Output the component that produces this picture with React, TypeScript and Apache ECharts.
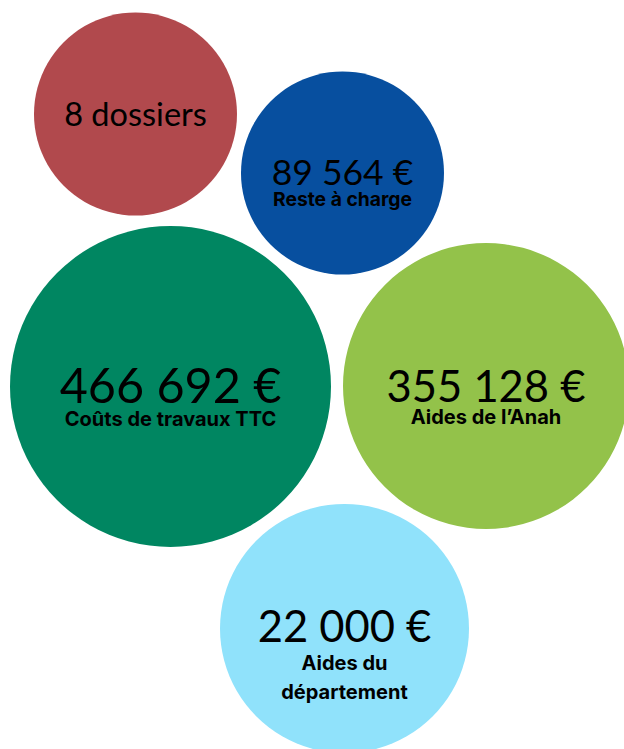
import React, { useEffect, useRef } from "react";
import * as echarts from "echarts";

// Data
const values = ["8 dossiers", "89 564 €", "466 692 €", "355 128 €", "22 000 €"];
const captions = ["", "Reste à charge", "Coûts de travaux TTC", "Aides de l’Anah", "Aides du\ndépartement"];

// Layout (axis units = pixels of the 624x749 canvas)
const posX = [135.5, 342.5, 170.5, 486, 344.5];
const posY = [114, 173, 386.5, 386, 628.5];
const diameters = [203, 203, 321, 286, 249];
const colors = ["#b1494d", "#074f9f", "#008661", "#93c24a", "#90e2fb"];
const valueFont = [32.5, 35.5, 48.5, 43.5, 43.5];
const valueLine = [34, 34, 48, 42, 47];
const capFont = [19, 19.3, 20, 20, 20];
const capLine = [22, 22, 22, 22, 29];
const offsets = [-1, 9, 8.5, 10, 25.5];

export default function App() {
  const ref = useRef<HTMLDivElement>(null);
  useEffect(() => {
    if (!ref.current) return;
    const chart = echarts.init(ref.current, null, { renderer: "svg" });
    const data = values.map((v, i) => ({
      value: [posX[i], posY[i]],
      symbolSize: diameters[i],
      itemStyle: { color: colors[i], opacity: 1 },
      label: {
        show: true,
        position: "inside",
        offset: [0, offsets[i]],
        color: "#000",
        textBorderWidth: 0,
        formatter: captions[i] ? `{v|${v}}\n{c|${captions[i]}}` : `{v|${v}}`,
        rich: {
          v: {
            fontFamily: "Lato",
            fontWeight: 400,
            fontSize: valueFont[i],
            lineHeight: valueLine[i],
            color: "#000",
            align: "center",
          },
          c: {
            fontFamily: "Inter",
            fontWeight: "bold",
            fontSize: capFont[i],
            lineHeight: capLine[i],
            color: "#000",
            align: "center",
          },
        },
      },
    }));
    chart.setOption({
      animation: false,
      grid: { left: 0, right: 0, top: 0, bottom: 0 },
      xAxis: { type: "value", min: 0, max: 624, show: false },
      yAxis: { type: "value", min: 0, max: 749, inverse: true, show: false },
      series: [
        {
          type: "scatter",
          symbol: "circle",
          silent: true,
          data,
          itemStyle: { opacity: 1 },
          emphasis: { disabled: true },
        },
      ],
    });
    return () => chart.dispose();
  }, []);
  return (
    <div
      ref={ref}
      style={{ position: "fixed", left: 0, top: 0, width: 624, height: 749, background: "#fff" }}
    />
  );
}
